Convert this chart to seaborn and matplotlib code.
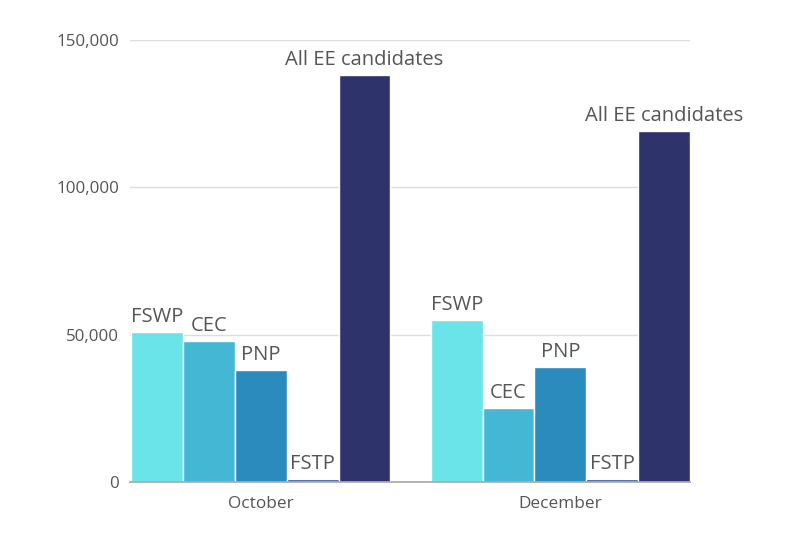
import matplotlib
matplotlib.use("Agg")
import matplotlib.pyplot as plt
import seaborn as sns
import pandas as pd
from matplotlib.ticker import FuncFormatter

months = ["October", "December"]
programs = ["FSWP", "CEC", "PNP", "FSTP", "All EE candidates"]
october = [51000, 48000, 38000, 1000, 138000]
december = [55000, 25000, 39000, 1000, 119000]
colors = ["#6ae4e8", "#43b7d3", "#2b8bbd", "#2a5191", "#2f336c"]

rows = []
for m, vals in zip(months, [october, december]):
    for p, v in zip(programs, vals):
        rows.append({"month": m, "program": p, "value": v})
df = pd.DataFrame(rows)

sns.set_theme(style="white")
plt.rcParams['font.family'] = ['Open Sans', 'DejaVu Sans']

fig = plt.figure(figsize=(8, 5.33), dpi=100)
ax = fig.add_axes([0.1625, 0.0957, 0.7, 0.8293])

sns.barplot(data=df, x="month", y="value", hue="program", order=months,
            hue_order=programs, palette=colors, width=0.865, ax=ax,
            edgecolor="white", linewidth=1, legend=False, saturation=1)

ax.set_ylim(0, 150000)
ax.set_xlim(-0.437, 1.433)
ax.set_yticks([0, 50000, 100000, 150000])
ax.yaxis.set_major_formatter(FuncFormatter(lambda v, p: f"{int(v):,}"))
ax.grid(axis="y", color="#dddddd", linewidth=1)
ax.set_axisbelow(True)
for s in ["top", "right", "left"]:
    ax.spines[s].set_visible(False)
ax.spines["bottom"].set_color("#aaaaaa")
ax.set_xlabel("")
ax.set_ylabel("")
ax.tick_params(axis="y", length=0, pad=8, labelsize=12.2, labelcolor="#555555")
ax.tick_params(axis="x", length=0, pad=10, labelsize=12.4, labelcolor="#555555")

for cont, name in zip(ax.containers, programs):
    ax.bar_label(cont, labels=[name] * len(cont), padding=3.5, fontsize=14.5,
                 color="#555555", clip_on=False)

fig.savefig("out.png", dpi=100)
